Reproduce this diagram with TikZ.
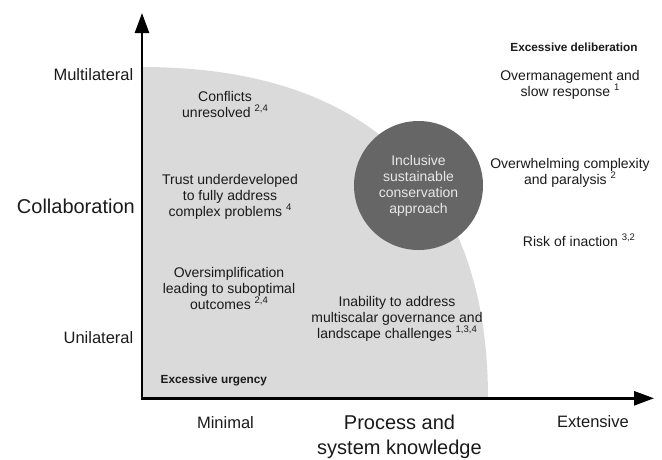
\documentclass[tikz,border=0pt]{standalone}
\usepackage{fontspec}
\setmainfont{Liberation Sans}
\usetikzlibrary{arrows.meta}
\definecolor{regiongray}{HTML}{DADADA}
\definecolor{circlegray}{HTML}{666666}
\definecolor{circletext}{HTML}{E8E8E8}
\definecolor{ink}{HTML}{1A1A1A}
\newcommand{\sups}[1]{\raisebox{0.42em}{\fontsize{9.5}{9.5}\selectfont #1}}
\tikzset{
  lbl/.style={align=center, inner sep=0pt, text=ink, font=\fontsize{14}{16}\selectfont},
  axlbl/.style={align=center, inner sep=0pt, text=ink, font=\fontsize{16.5}{19}\selectfont},
  biglbl/.style={align=center, inner sep=0pt, text=ink, font=\fontsize{20}{25}\selectfont},
  boldlbl/.style={inner sep=0pt, text=ink, font=\fontsize{11.8}{13}\selectfont\bfseries},
  axisline/.style={line width=2.7pt, draw=black, line join=miter,
    {Triangle[length=20pt,width=14pt]}-{Triangle[length=20pt,width=14pt]}},
  bigcircle/.style={circle, fill=circlegray, minimum size=129pt, inner sep=0pt,
    align=center, text=circletext, font=\fontsize{14}{16}\selectfont}
}
\begin{document}
\begin{tikzpicture}[x=1pt,y=-1pt]
\useasboundingbox (0,0) rectangle (662,459);
% shaded region
\fill[regiongray] (142,67) .. controls (367,67) and (488,183) .. (488,398.3) -- (142,398.3) -- cycle;
% axes
\coordinate (ytip) at (142,13);
\coordinate (origin) at (142,398.3);
\coordinate (xtip) at (654,398.3);
\draw[axisline] (ytip) -- (origin) -- (xtip);
% circle
\node[bigcircle] (core) at (418.5,185.5) {Inclusive\\sustainable\\conservation\\approach};
% texts in region
\node[lbl] (conf) at (225,104) {Conflicts\\unresolved \sups{2,4}};
\node[lbl] (trust) at (230,196.5) {Trust underdeveloped\\to fully address\\complex problems \sups{4}};
\node[lbl] (over) at (229,288) {Oversimplification\\leading to suboptimal\\outcomes \sups{2,4}};
\node[lbl] (inab) at (397,318.5) {Inability to address\\multiscalar governance and\\landscape challenges \sups{1,3,4}};
\node[boldlbl, anchor=west] (urg) at (160.5,380.5) {Excessive urgency};
% right texts
\node[boldlbl] (delib) at (574,47.5) {Excessive deliberation};
\node[lbl] (overm) at (570,84.5) {Overmanagement and\\slow response \sups{1}};
\node[lbl] (overw) at (570,173) {Overwhelming complexity\\and paralysis \sups{2}};
\node[lbl] (risk) at (579,240) {Risk of inaction \sups{3,2}};
% axis labels
\node[axlbl, anchor=east] (multi) at (133.5,75) {Multilateral};
\node[biglbl, anchor=east] (collab) at (135,206) {Collaboration};
\node[axlbl, anchor=east] (uni) at (133.5,337.5) {Unilateral};
\node[axlbl] (minimal) at (225.5,422.5) {Minimal};
\node[biglbl] (proc) at (399.5,436.5) {Process and\\system knowledge};
\node[axlbl] (ext) at (593,422) {Extensive};
\end{tikzpicture}
\end{document}
